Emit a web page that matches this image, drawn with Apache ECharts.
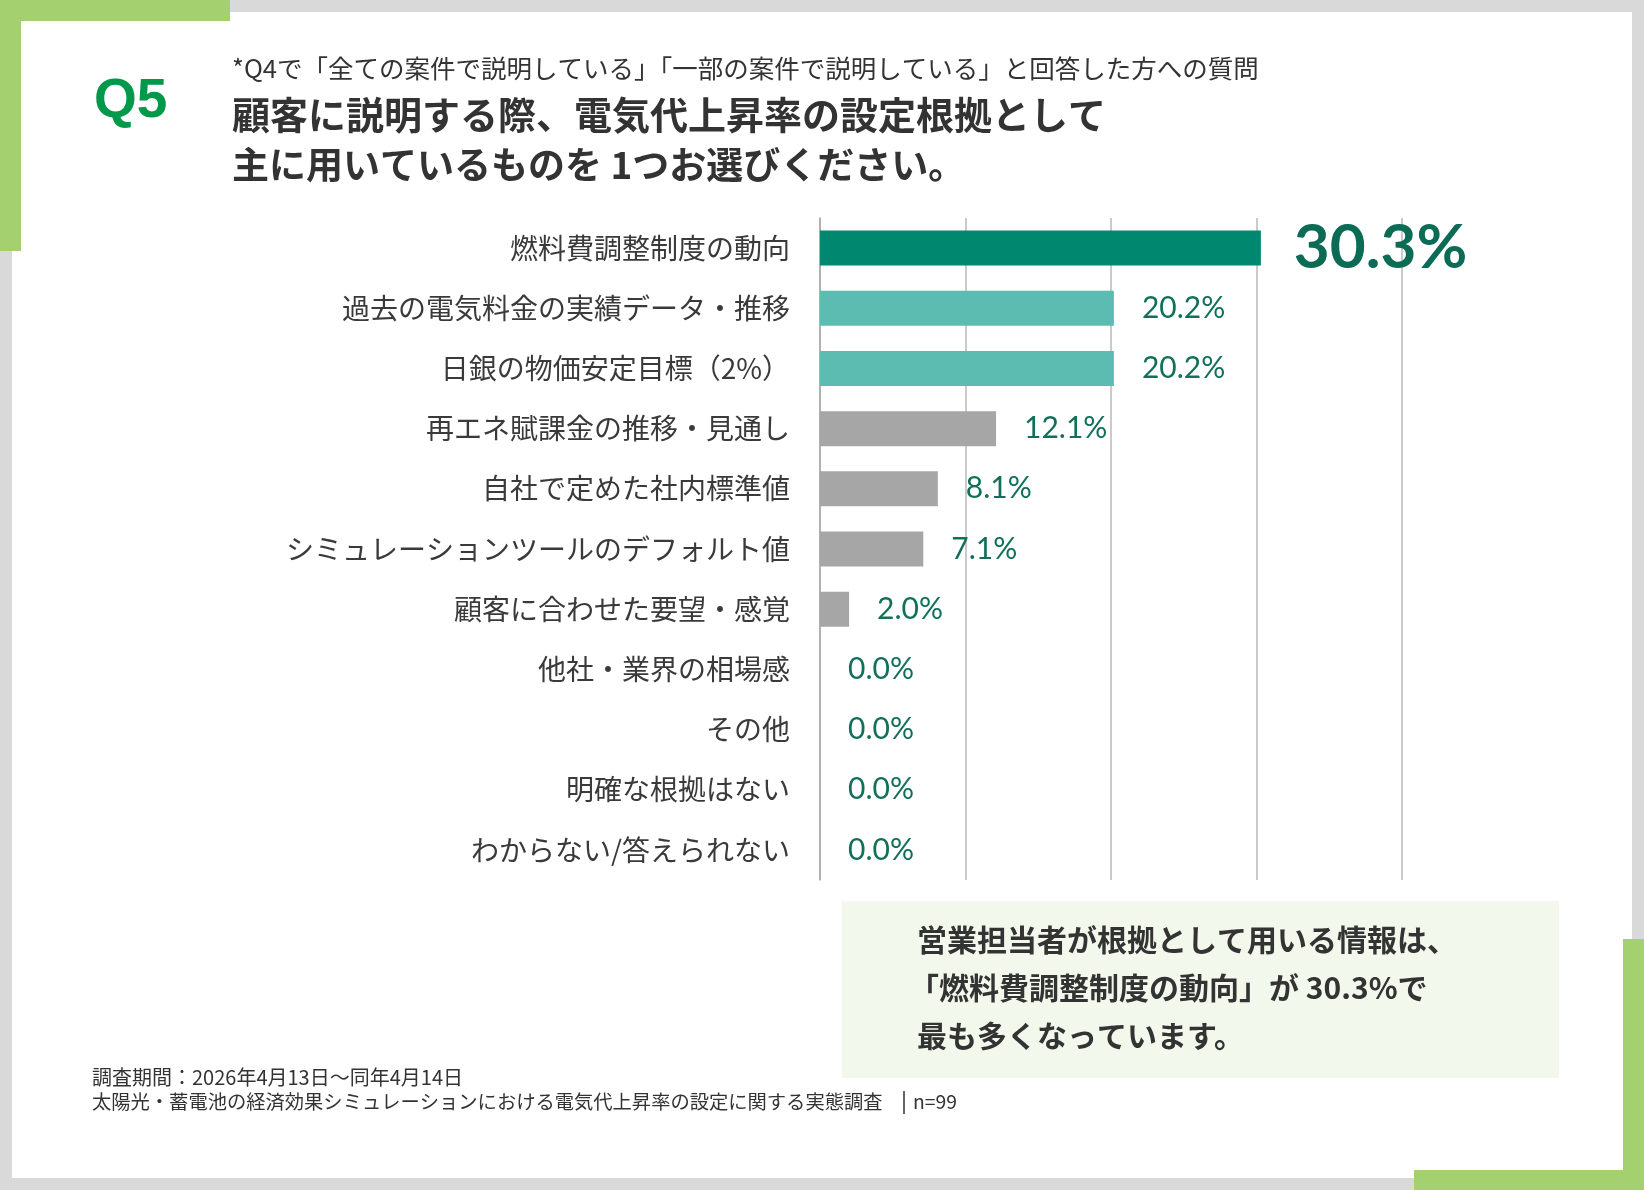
<!DOCTYPE html>
<html>
<head>
<meta charset="utf-8">
<script src="https://cdn.jsdelivr.net/npm/echarts@6/dist/echarts.min.js"></script>
<style>
html,body{margin:0;padding:0;background:#d9d9d9;}
#chart{width:1644px;height:1190px;}
</style>
</head>
<body>
<div id="chart"></div>
<script>
// ---- data ----
const categories = [
  '燃料費調整制度の動向',
  '過去の電気料金の実績データ・推移',
  '日銀の物価安定目標（2%）',
  '再エネ賦課金の推移・見通し',
  '自社で定めた社内標準値',
  'シミュレーションツールのデフォルト値',
  '顧客に合わせた要望・感覚',
  '他社・業界の相場感',
  'その他',
  '明確な根拠はない',
  'わからない/答えられない'
];
const values = [30.3, 20.2, 20.2, 12.1, 8.1, 7.1, 2.0, 0.0, 0.0, 0.0, 0.0];
const xTicks = [0, 10, 20, 30, 40];

const qLabel = 'Q5';
const subTitle = '*Q4で「全ての案件で説明している」「一部の案件で説明している」と回答した方への質問';
const titleLines = ['顧客に説明する際、電気代上昇率の設定根拠として', '主に用いているものを 1つお選びください。'];
const summaryLines = ['営業担当者が根拠として用いる情報は、', '「燃料費調整制度の動向」が 30.3%で', '最も多くなっています。'];
const footerLines = ['調査期間：2026年4月13日～同年4月14日', '太陽光・蓄電池の経済効果シミュレーションにおける電気代上昇率の設定に関する実態調査'];
const sampleSize = 'n=99';

// ---- styles ----
const JP = '"Noto Sans CJK JP", "Noto Sans", sans-serif';
const NUM = 'Lato, "Open Sans", sans-serif';
const GREEN = '#a4d070';
const WHITE = '#ffffff';
const maxVal = Math.max(...values);

function barColor(v) {
  if (v === maxVal) return '#00876f';
  if (v >= 20) return '#5cbcb1';
  return '#a6a6a6';
}

const seriesData = values.map(v => {
  const item = { value: v, itemStyle: { color: barColor(v) } };
  if (v === maxVal) {
    item.label = { fontSize: 62, fontWeight: 'bold', distance: 33, color: '#0b6b55', padding: [0, 0, 6, 0] };
  }
  return item;
});

const chart = echarts.init(document.getElementById('chart'), null, { renderer: 'canvas' });

const graphics = [
  // white card
  { type: 'rect', shape: { x: 12, y: 12, width: 1620, height: 1166 }, style: { fill: WHITE }, z: -10 },
  // green corners
  { type: 'rect', shape: { x: 0, y: 0, width: 230, height: 21 }, style: { fill: GREEN }, z: -9 },
  { type: 'rect', shape: { x: 0, y: 0, width: 21, height: 251 }, style: { fill: GREEN }, z: -9 },
  { type: 'rect', shape: { x: 1414, y: 1170, width: 230, height: 20 }, style: { fill: GREEN }, z: -9 },
  { type: 'rect', shape: { x: 1623, y: 939, width: 21, height: 251 }, style: { fill: GREEN }, z: -9 },
  // Q label
  { type: 'text', x: 94, y: 102, style: { text: qLabel, fill: '#00984a', font: 'bold 55px "Liberation Sans", Arial, sans-serif', textVerticalAlign: 'middle' } },
  // subtitle
  { type: 'text', x: 232, y: 68, style: { text: subTitle, fill: '#333333', font: '25.5px ' + JP, textVerticalAlign: 'middle' } },
  // title
  { type: 'text', x: 232, y: 115, style: { text: titleLines[0], fill: '#333333', font: 'bold 38px ' + JP, textVerticalAlign: 'middle' } },
  { type: 'text', x: 232, y: 165, style: { text: titleLines[1], fill: '#333333', font: 'bold 37px ' + JP, textVerticalAlign: 'middle' } },
  // summary box
  { type: 'rect', shape: { x: 842, y: 901, width: 717, height: 177 }, style: { fill: '#f3f8ec' }, z: -5 },
  { type: 'text', x: 917, y: 940, style: { text: summaryLines[0], fill: '#333333', font: 'bold 30px ' + JP, textVerticalAlign: 'middle' } },
  { type: 'text', x: 909, y: 988, style: { text: summaryLines[1], fill: '#333333', font: 'bold 30px ' + JP, textVerticalAlign: 'middle' } },
  { type: 'text', x: 917, y: 1036, style: { text: summaryLines[2], fill: '#333333', font: 'bold 30px ' + JP, textVerticalAlign: 'middle' } },
  // footer
  { type: 'text', x: 92, y: 1077, style: { text: footerLines[0], fill: '#333333', font: '20px ' + JP, textVerticalAlign: 'middle' } },
  { type: 'text', x: 92, y: 1102, style: { text: footerLines[1], fill: '#333333', font: '19.3px ' + JP, textVerticalAlign: 'middle' } },
  { type: 'line', shape: { x1: 904, y1: 1091, x2: 904, y2: 1114 }, style: { stroke: '#333333', lineWidth: 1.5 } },
  { type: 'text', x: 913, y: 1102, style: { text: sampleSize, fill: '#333333', font: '19.3px ' + JP, textVerticalAlign: 'middle' } }
];

chart.setOption({
  backgroundColor: '#d9d9d9',
  animation: false,
  graphic: graphics,
  grid: { left: 820, top: 218, width: 582, height: 662, containLabel: false },
  xAxis: {
    type: 'value',
    min: xTicks[0],
    max: xTicks[xTicks.length - 1],
    interval: xTicks[1] - xTicks[0],
    axisLabel: { show: false },
    axisTick: { show: false },
    axisLine: { show: false },
    splitLine: { show: true, lineStyle: { color: '#b8b8b8', width: 1.5 } }
  },
  yAxis: {
    type: 'category',
    inverse: true,
    data: categories,
    axisTick: { show: false },
    axisLine: { show: true, lineStyle: { color: '#a8a8a8', width: 1.5 } },
    axisLabel: { fontSize: 28, fontFamily: JP, color: '#3a3a3a', margin: 30, padding: [0, 0, 10, 0] }
  },
  series: [{
    type: 'bar',
    data: seriesData,
    barWidth: 35,
    label: {
      show: true,
      position: 'right',
      distance: 28,
      fontSize: 30,
      fontFamily: NUM,
      color: '#12705a',
      padding: [4, 0, 0, 0],
      formatter: p => p.value.toFixed(1) + '%'
    }
  }]
});
</script>
</body>
</html>
